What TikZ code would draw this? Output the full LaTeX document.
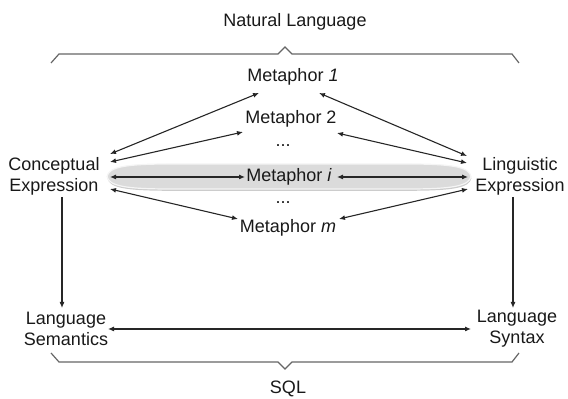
\documentclass[tikz,border=0pt]{standalone}
\usepackage{fontspec}
\setmainfont{Liberation Sans}
\usetikzlibrary{arrows.meta,shadows}

\begin{document}
\begin{tikzpicture}[
    x=0.5pt,y=-0.5pt,
    font=\fontsize{9}{10.5}\selectfont,
    lbl/.style={inner sep=0pt,align=center,text=black!90},
    link/.style={{Latex[length=3pt,width=2.5pt]}-{Latex[length=3pt,width=2.5pt]},
                 line width=0.55pt,draw=black!85},
    flow/.style={-{Latex[length=3pt,width=2.5pt]},line width=0.55pt,draw=black!85},
    brace/.style={line width=0.6pt,draw=black!60,line join=miter},
    band/.style={fill=black!14,draw=black!4,line width=0.6pt,
                 drop shadow={opacity=0.4,shadow xshift=0.2pt,shadow yshift=-0.9pt}}
  ]
    \useasboundingbox (0,0) rectangle (568,399);
    % highlighted path through metaphor i
    \path[band] (107,176.5) .. controls (109,167) and (125,164) .. (170,164) -- (408,164)
          .. controls (453,164) and (469,167) .. (471,176.5)
          .. controls (469,186) and (453,189) .. (408,189) -- (170,189)
          .. controls (125,189) and (109,186) .. (107,176.5) -- cycle;
    \node[lbl] (nl)  at (295,22)    {Natural Language};
    \node[lbl] (m1)  at (293,77)    {Metaphor \textit{1}};
    \node[lbl] (m2)  at (291,119)   {Metaphor 2};
    \node[lbl] (d1)  at (283,146)   {...};
    \node[lbl] (mi)  at (289,177)   {Metaphor \textit{i}};
    \node[lbl] (d2)  at (283,203)   {...};
    \node[lbl] (mm)  at (288,228)   {Metaphor \textit{m}};
    \node[lbl] (ce)  at (54,176.5)  {Conceptual\\Expression};
    \node[lbl] (le)  at (520,176.5) {Linguistic\\Expression};
    \node[lbl] (ls)  at (66,328.5)  {Language\\Semantics};
    \node[lbl] (ly)  at (517,328.5) {Language\\Syntax};
    \node[lbl] (sql) at (288,389)   {SQL};
    % braces
    \draw[brace] (51,63) -- (59,54) -- (278,54) -- (285,47) -- (292,54) -- (512,54) -- (519,63);
    \draw[brace] (51,353) -- (59,362) -- (278,362) -- (285,369) -- (292,362) -- (512,362) -- (519,353);
    % conceptual side
    \draw[link] ([shift={(56,-22.5)}]ce.center) -- ([shift={(-34,16)}]m1.center);
    \draw[link] ([shift={(56,-14.5)}]ce.center) -- ([shift={(-48,13)}]m2.center);
    \draw[link] ([shift={(56,0.5)}]ce.center) -- ([shift={(-44,0)}]mi.center);
    \draw[link] ([shift={(56,12.5)}]ce.center) -- ([shift={(-50,-9)}]mm.center);
    % linguistic side
    \draw[link] ([shift={(-53,-20.5)}]le.center) -- ([shift={(26,16)}]m1.center);
    \draw[link] ([shift={(-53,-13.5)}]le.center) -- ([shift={(46,14)}]m2.center);
    \draw[link] ([shift={(-52,0.5)}]le.center) -- ([shift={(48,0)}]mi.center);
    \draw[link] ([shift={(-52,12.5)}]le.center) -- ([shift={(51,-9)}]mm.center);
    % down to SQL
    \draw[flow] ([shift={(8,20.5)}]ce.center) -- ([shift={(-4,-20.5)}]ls.center);
    \draw[flow] ([shift={(-7,20.5)}]le.center) -- ([shift={(-4,-20.5)}]ly.center);
    \draw[link] ([shift={(42,0.5)}]ls.center) -- ([shift={(-46,0.5)}]ly.center);
\end{tikzpicture}
\end{document}
